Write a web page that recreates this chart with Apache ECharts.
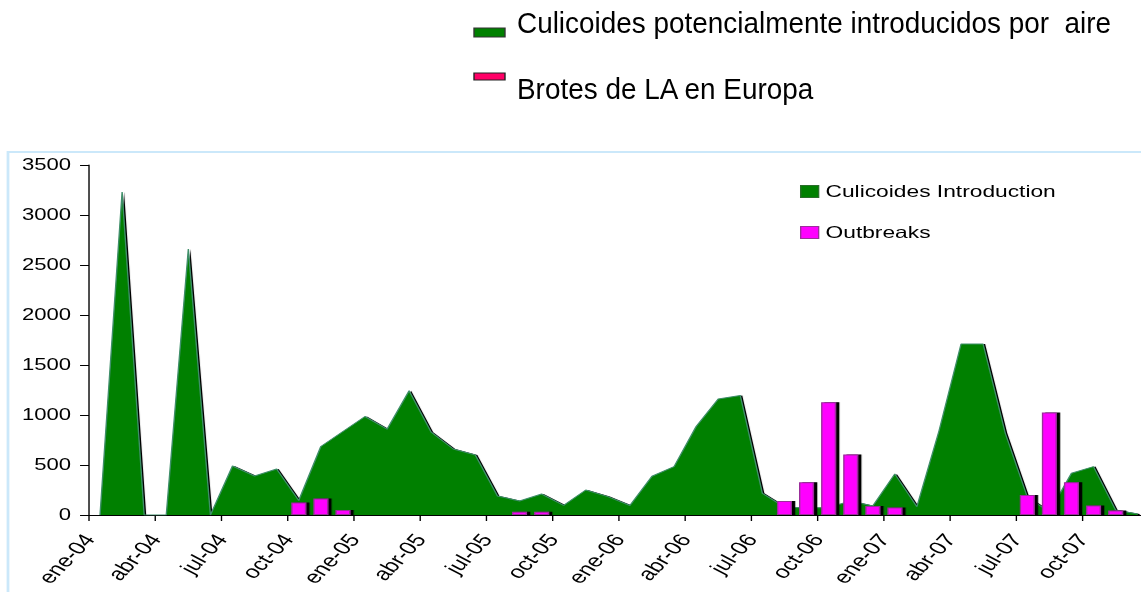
<!DOCTYPE html>
<html>
<head>
<meta charset="utf-8">
<script src="https://cdn.jsdelivr.net/npm/echarts@6/dist/echarts.min.js"></script>
<style>
    html, body { margin: 0; padding: 0; background: #fff; overflow: hidden; }
    /* the source picture is stretched sideways: draw narrow, widen with css */
    #chart { width: 826.8px; height: 592px; transform: scaleX(1.38); transform-origin: 0 0; }
</style>
</head>
<body>
<div id="chart"></div>
<script>
'use strict';
var STRETCH = 1.38;

var monthNames = ['ene', 'feb', 'mar', 'abr', 'may', 'jun', 'jul', 'ago', 'sep', 'oct', 'nov', 'dic'];
var years = ['04', '05', '06', '07'];

// ene-04 .. dic-07
var months = [];
years.forEach(function (y) {
    monthNames.forEach(function (m) { months.push(m + '-' + y); });
});
// ticks sit on month boundaries, one more than months (last one falls off the picture)
var tickLabels = months.concat(['']);

var culicoides = [
    0, 3230, 0, 0, 2660, 0, 490, 390, 460, 145, 685, 835,
    985, 858, 1242, 828, 660, 600, 190, 140, 210, 97, 250, 184,
    95, 387, 484, 885, 1159, 1196, 217, 80, 70, 75, 140, 90,
    411, 83, 840, 1710, 1710, 820, 180, 30, 417, 484, 50, 10
];

var outbreaks = [
    null, null, null, null, null, null, null, null, null, 125, 165, 50,
    null, null, null, null, null, null, null, 33, 33, 10, null, null,
    null, null, null, null, null, null, null, 140, 327, 1127, 606, 90,
    75, null, null, 10, 10, null, 200, 1025, 327, 95, 45, null
];

var topTitles = ['Culicoides potencialmente introducidos por  aire', 'Brotes de LA en Europa'];

document.addEventListener('DOMContentLoaded', function () {
    var myChart = echarts.init(document.getElementById('chart'), null, {renderer: 'svg'});

    var option = {
        animation: false,
        textStyle: {
            fontFamily: '"Liberation Sans", Arial, sans-serif'
        },
        graphic: [
            {
                type: 'rect',
                shape: {x: 8 / STRETCH, y: 152, width: 900, height: 500},
                style: {fill: 'none', stroke: '#cbe8fa', lineWidth: 2}
            },
            {
                type: 'rect',
                shape: {x: 474 / STRETCH, y: 28, width: 31 / STRETCH, height: 9},
                style: {fill: '#008000', stroke: '#333', lineWidth: 1}
            },
            {
                type: 'rect',
                shape: {x: 474 / STRETCH, y: 73, width: 31 / STRETCH, height: 7},
                style: {fill: '#ff0066', stroke: '#222', lineWidth: 1}
            },
            {
                type: 'text',
                x: 517 / STRETCH,
                y: 23,
                scaleX: 0.93 / STRETCH,
                style: {
                    text: topTitles[0],
                    font: '30px "Liberation Sans", Arial',
                    fill: '#000',
                    verticalAlign: 'middle'
                }
            },
            {
                type: 'text',
                x: 517 / STRETCH,
                y: 89,
                scaleX: 0.93 / STRETCH,
                style: {
                    text: topTitles[1],
                    font: '30px "Liberation Sans", Arial',
                    fill: '#000',
                    verticalAlign: 'middle'
                }
            }
        ],
        legend: {
            orient: 'vertical',
            left: 800 / STRETCH - 5,
            top: 178,
            itemWidth: 13,
            itemHeight: 12,
            itemGap: 24,
            textStyle: {fontSize: 16.5, color: '#000'},
            data: [
                {name: 'Culicoides Introduction', icon: 'rect',
                    itemStyle: {color: '#008000', borderColor: '#2a6e2a', borderWidth: 1}},
                {name: 'Outbreaks', icon: 'rect',
                    itemStyle: {color: '#ff00ff', borderColor: '#9b2f9b', borderWidth: 1}}
            ]
        },
        grid: {
            left: 89 / STRETCH,
            right: -5.4,
            top: 165,
            bottom: 77,
            outerBoundsMode: 'none'
        },
        xAxis: [
            {
                type: 'category',
                data: months,
                boundaryGap: true,
                position: 'bottom',
                axisLine: {lineStyle: {color: '#000'}},
                axisTick: {show: false},
                axisLabel: {show: false}
            },
            {
                type: 'category',
                data: tickLabels,
                boundaryGap: false,
                position: 'bottom',
                axisLine: {show: false},
                axisTick: {interval: 2, length: 6, lineStyle: {color: '#000'}},
                axisLabel: {interval: 2, rotate: 54, fontSize: 18, color: '#000', margin: 21},
                splitLine: {show: false}
            }
        ],
        yAxis: {
            type: 'value',
            min: 0,
            max: 3500,
            interval: 500,
            axisLine: {show: true, lineStyle: {color: '#000'}},
            axisTick: {show: true, length: 6.5, lineStyle: {color: '#000'}},
            axisLabel: {
                fontSize: 16,
                color: '#000',
                margin: 13,
                formatter: function (v) { return String(v); }
            },
            splitLine: {show: false}
        },
        series: [
            {
                name: 'Culicoides Introduction',
                type: 'line',
                xAxisIndex: 0,
                data: culicoides,
                symbol: 'none',
                itemStyle: {color: '#008000'},
                lineStyle: {color: '#3f8f6a', width: 1},
                areaStyle: {color: '#008000', opacity: 1, shadowColor: '#000', shadowOffsetX: 1.5},
                z: 1
            },
            {
                name: 'Outbreaks',
                type: 'bar',
                xAxisIndex: 0,
                data: outbreaks,
                barWidth: '68%',
                itemStyle: {
                    color: '#ff00ff',
                    borderColor: '#9b2f9b',
                    borderWidth: 1,
                    shadowColor: '#000',
                    shadowOffsetX: 2.4,
                    shadowOffsetY: 0,
                    shadowBlur: 0
                },
                z: 3
            }
        ]
    };

    myChart.setOption(option);
    window.onresize = function () {
        myChart.resize();
    };
});
</script>
</body>
</html>
